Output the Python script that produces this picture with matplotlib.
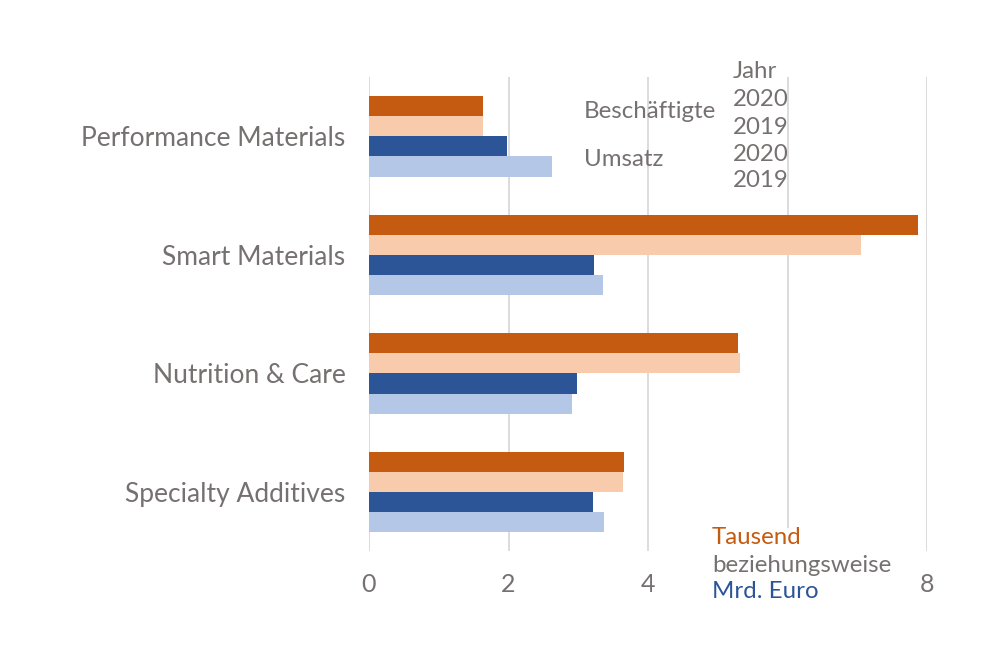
import matplotlib.pyplot as plt
import numpy as np
from matplotlib.patches import Rectangle

categories = ["Performance Materials", "Smart Materials", "Nutrition & Care", "Specialty Additives"]
staff_2020 = [1.63, 7.87, 5.29, 3.66]
staff_2019 = [1.63, 7.05, 5.32, 3.64]
sales_2020 = [1.98, 3.23, 2.98, 3.21]
sales_2019 = [2.62, 3.35, 2.91, 3.37]
xticks = [0, 2, 4, 6, 8]
xtick_labels = ["0", "2", "4", "", "8"]  # the 6 sits under the unit note

orange = "#C55A11"
peach = "#F8CBAD"
blue = "#2B5597"
lightblue = "#B4C7E7"
gray = "#767171"

plt.rcParams['font.family'] = ['Lato', 'DejaVu Sans']

fig = plt.figure(figsize=(10, 6.47), dpi=100)
ax = fig.add_axes([0.369, 0.148, 0.558, 0.733])

y = np.arange(len(categories))
h = 0.17
series = [(staff_2020, orange), (staff_2019, peach), (sales_2020, blue), (sales_2019, lightblue)]
for i, (vals, col) in enumerate(series):
    ax.barh(y + (i - 1.5) * h, vals, height=h, color=col, zorder=3)

ax.set_xlim(0, 8)
ax.set_ylim(3.5, -0.5)
ax.set_yticks(y)
ax.set_yticklabels(categories, fontsize=19, color=gray)
ax.set_xticks(xticks)
ax.set_xticklabels(xtick_labels, fontsize=18, color=gray)
ax.tick_params(length=0)
ax.tick_params(axis='y', pad=17)
ax.tick_params(axis='x', pad=16)
ax.grid(axis='x', color="#D9D9D9", linewidth=1.3, zorder=0)
for s in ax.spines.values():
    s.set_visible(False)


def px(x, yy):
    return x / 1000, 1 - yy / 647


# header / legend texts
fs = 17.3
fig.text(*px(733, 72), "Jahr", fontsize=fs, color=gray, va='center', ha='left')
for yy, lbl in zip([100, 127, 154, 181], ["2020", "2019", "2020", "2019"]):
    fig.text(*px(733, yy), lbl, fontsize=fs, color=gray, va='center', ha='left')
fig.text(*px(584, 111), "Beschäftigte", fontsize=fs, color=gray, va='center', ha='left')
fig.text(*px(584, 160), "Umsatz", fontsize=fs, color=gray, va='center', ha='left')

# unit note with white background over the gridline
fig.patches.append(Rectangle(px(706, 608), 0.19, 80 / 647, transform=fig.transFigure,
                             facecolor='white', edgecolor='none', zorder=5))
fig.text(*px(712, 538), "Tausend", fontsize=fs, color=orange, va='center', ha='left', zorder=6)
fig.text(*px(712, 565), "beziehungsweise", fontsize=fs, color=gray, va='center', ha='left', zorder=6)
fig.text(*px(712, 591), "Mrd. Euro", fontsize=fs, color=blue, va='center', ha='left', zorder=6)

fig.savefig("out.png", dpi=100)
